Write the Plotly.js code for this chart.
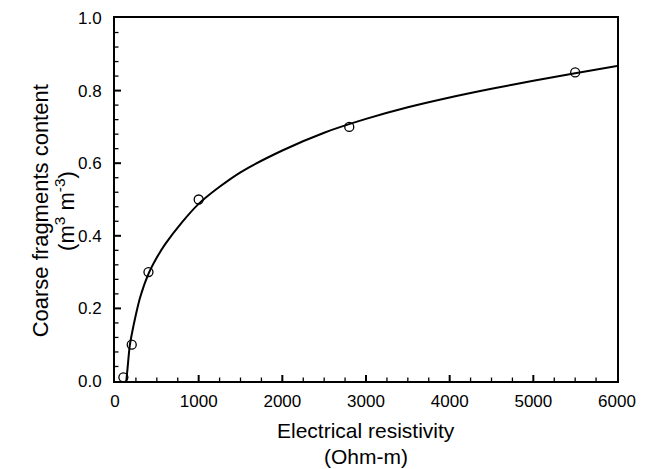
<!DOCTYPE html>
<html>
<head>
<meta charset="utf-8">
<script src="https://cdn.plot.ly/plotly-3.0.1.min.js"></script>
<style>html,body{margin:0;padding:0;background:#fff;}#chart{width:646px;height:469px;}</style>
</head>
<body>
<div id="chart"></div>
<script>
// Measured points
const resistivity = [100, 200, 400, 1000, 2800, 5500];
const coarseFragments = [0.01, 0.1, 0.3, 0.5, 0.7, 0.85];

// Fitted curve
const curveX = [135, 150, 175, 200, 250, 300, 400, 500, 600, 800, 1000, 1250, 1500, 2000, 2500, 3000, 3500, 4000, 4500, 5000, 5500, 6000];
const curveY = [0, 0.035, 0.095, 0.128, 0.183, 0.23, 0.295, 0.34, 0.377, 0.437, 0.488, 0.535, 0.575, 0.635, 0.684, 0.722, 0.754, 0.781, 0.805, 0.827, 0.848, 0.868];

const xTicks = [0, 1000, 2000, 3000, 4000, 5000, 6000];
const yTicks = [0, 0.2, 0.4, 0.6, 0.8, 1.0];
const yTickText = ['0.0', '0.2', '0.4', '0.6', '0.8', '1.0'];
const xMinorStep = 250;
const yMinorStep = 0.04;
const xTitleLines = ['Electrical resistivity', '(Ohm-m)'];
const yTitleLines = ['Coarse fragments content', '(m<sup>3</sup> m<sup>-3</sup>)'];

const font = 'Arial, "Liberation Sans", sans-serif';

const W = 646, H = 469;
const margin = {l: 115, r: 29, t: 18, b: 88};
const xMax = xTicks[xTicks.length - 1], yMax = yTicks[yTicks.length - 1];
// data units per screen pixel, for the inside tick marks
const xPerPx = xMax / (W - margin.l - margin.r);
const yPerPx = yMax / (H - margin.t - margin.b);

// Inside tick marks built from the tick arrays as line segments
const majX = {x: [], y: []}, minX = {x: [], y: []};
function addXTick(obj, v, len) { obj.x.push(v, v, null); obj.y.push(0, len * yPerPx, null); }
function addYTick(obj, v, len) { obj.x.push(0, len * xPerPx, null); obj.y.push(v, v, null); }
for (let k = 1; k * xMinorStep < xMax; k++) {
  const v = k * xMinorStep;
  if (xTicks.indexOf(v) >= 0) addXTick(majX, v, 6); else addXTick(minX, v, 3.5);
}
for (let k = 1; k * yMinorStep < yMax - 1e-9; k++) {
  const v = Math.round(k * yMinorStep * 1000) / 1000;
  if (yTicks.some(t => Math.abs(t - v) < 1e-9)) addYTick(majX, v, 6); else addYTick(minX, v, 3.5);
}

const traces = [
  {
    x: majX.x, y: majX.y, mode: 'lines', type: 'scatter', connectgaps: false,
    line: {color: '#000', width: 2}, hoverinfo: 'skip', showlegend: false
  },
  {
    x: minX.x, y: minX.y, mode: 'lines', type: 'scatter', connectgaps: false,
    line: {color: '#000', width: 1.3}, hoverinfo: 'skip', showlegend: false
  },
  {
    x: curveX, y: curveY, mode: 'lines', type: 'scatter',
    line: {color: '#000', width: 2, shape: 'spline', smoothing: 0.8},
    hoverinfo: 'skip', showlegend: false
  },
  {
    x: resistivity, y: coarseFragments, mode: 'markers', type: 'scatter',
    marker: {symbol: 'circle-open', size: 9, color: '#000', line: {width: 1.3, color: '#000'}},
    showlegend: false, cliponaxis: false
  }
];

function annot(text, x, y, angle) {
  return {text: text, xref: 'paper', yref: 'paper', x: x, y: y,
    xanchor: 'center', yanchor: 'middle', textangle: angle, showarrow: false,
    font: {size: angle ? 22 : 21, family: font, color: '#000'}};
}

const layout = {
  width: W, height: H,
  margin: margin,
  paper_bgcolor: '#fff', plot_bgcolor: '#fff',
  font: {family: font, color: '#000', size: 17},
  xaxis: {
    range: [0, xMax], tickmode: 'array', tickvals: xTicks, ticktext: xTicks.map(String),
    ticks: '', showline: true, linewidth: 2, linecolor: '#000', mirror: true,
    showgrid: false, zeroline: false, ticklabelstandoff: 4,
    tickfont: {size: 17, family: font}
  },
  yaxis: {
    range: [0, yMax], tickmode: 'array', tickvals: yTicks, ticktext: yTickText,
    ticks: '', showline: true, linewidth: 2, linecolor: '#000', mirror: true,
    showgrid: false, zeroline: false, ticklabelstandoff: 8,
    tickfont: {size: 17, family: font}
  },
  annotations: [
    annot(xTitleLines[0], 0.5, -0.135, 0),
    annot(xTitleLines[1], 0.5, -0.209, 0),
    annot(yTitleLines[0], -0.149, 0.468, -90),
    annot(yTitleLines[1], -0.1, 0.468, -90)
  ]
};

Plotly.newPlot('chart', traces, layout, {displayModeBar: false, staticPlot: true});
</script>
</body>
</html>
